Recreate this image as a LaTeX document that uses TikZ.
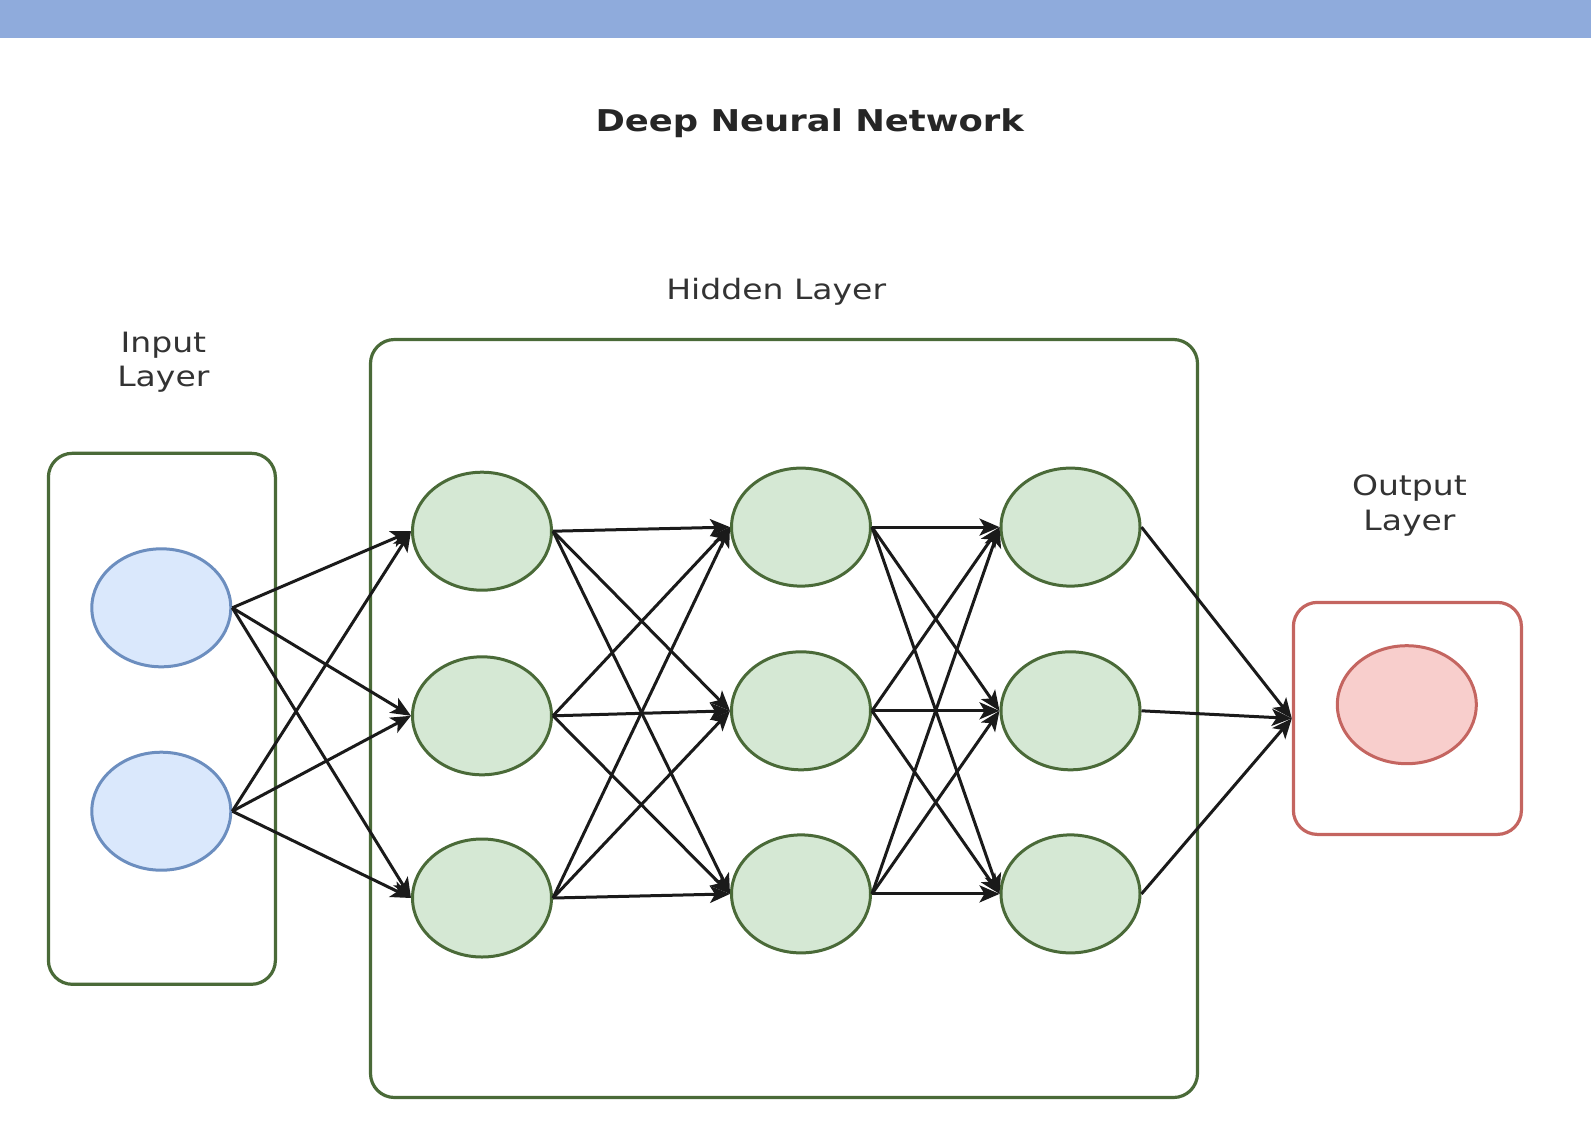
\documentclass[tikz,border=0pt]{standalone}
\usepackage{fontspec}
\setmainfont{DejaVu Sans}
\usetikzlibrary{arrows.meta,shapes.geometric}
\definecolor{barblue}{HTML}{8FABDC}
\definecolor{inputfill}{HTML}{DAE8FC}
\definecolor{inputdraw}{HTML}{6C8EBF}
\definecolor{hiddenfill}{HTML}{D5E8D4}
\definecolor{hiddendraw}{HTML}{4A6A38}
\definecolor{outputfill}{HTML}{F8CECC}
\definecolor{outputdraw}{HTML}{C46560}
\definecolor{labelgray}{HTML}{333333}
\definecolor{arrowblack}{HTML}{1A1A1A}

\begin{document}
\begin{tikzpicture}[
  x=0.5pt, y=-0.5pt,
  lbl/.style={font=\fontsize{14}{17.3}\selectfont, text=labelgray,
              align=center, xscale=1.18, inner sep=0pt},
  layerbox/.style={draw, rounded corners=12pt, line width=1.6pt, inner sep=0pt},
  neuron/.style={ellipse, draw, line width=1.5pt, inner sep=0pt,
                 minimum width=69.5pt, minimum height=59pt},
  arrow/.style={-{Stealth[length=10pt, width=8.5pt, inset=2.5pt]},
                line width=1.5pt, draw=arrowblack}
]
\useasboundingbox (0,0) rectangle (1591,1136);
\fill[barblue] (0,0) rectangle (1591,38);

% title and layer captions
\node[lbl, font=\fontsize{15}{18}\selectfont\bfseries, text=black!85] (title)
  at (809.7,123.5) {Deep Neural Network};
\node[lbl] (hiddenlbl) at (776.2,292) {Hidden Layer};
\node[lbl] (inputlbl) at (163.4,362) {Input\\Layer};
\node[lbl] (outputlbl) at (1409.4,505.5) {Output\\Layer};

% layer frames
\node[layerbox, draw=hiddendraw, minimum width=113.5pt, minimum height=265.5pt]
  (inputbox) at (161.9,718.8) {};
\node[layerbox, draw=hiddendraw, minimum width=413.5pt, minimum height=379pt]
  (hiddenbox) at (784,718.5) {};
\node[layerbox, draw=outputdraw, minimum width=114pt, minimum height=116pt]
  (outputbox) at (1407.4,718.4) {};

% neurons
\node[neuron, fill=inputfill, draw=inputdraw] (x1) at (161.3,607.8) {};
\node[neuron, fill=inputfill, draw=inputdraw] (x2) at (161.3,811.2) {};
\node[neuron, fill=hiddenfill, draw=hiddendraw] (h11) at (482,531.2) {};
\node[neuron, fill=hiddenfill, draw=hiddendraw] (h12) at (482,715.8) {};
\node[neuron, fill=hiddenfill, draw=hiddendraw] (h13) at (482,898) {};
\node[neuron, fill=hiddenfill, draw=hiddendraw] (h21) at (801,527.1) {};
\node[neuron, fill=hiddenfill, draw=hiddendraw] (h22) at (801,710.8) {};
\node[neuron, fill=hiddenfill, draw=hiddendraw] (h23) at (801,893.9) {};
\node[neuron, fill=hiddenfill, draw=hiddendraw] (h31) at (1070.5,527.1) {};
\node[neuron, fill=hiddenfill, draw=hiddendraw] (h32) at (1070.5,710.8) {};
\node[neuron, fill=hiddenfill, draw=hiddendraw] (h33) at (1070.5,893.9) {};
\node[neuron, fill=outputfill, draw=outputdraw] (y) at (1406.8,704.7) {};

% input -> first hidden column
\draw[arrow] (x1.east) -- (h11.west);
\draw[arrow] (x1.east) -- (h12.west);
\draw[arrow] (x1.east) -- (h13.west);
\draw[arrow] (x2.east) -- (h11.west);
\draw[arrow] (x2.east) -- (h12.west);
\draw[arrow] (x2.east) -- (h13.west);
% first -> second hidden column
\draw[arrow] (h11.east) -- (h21.west);
\draw[arrow] (h11.east) -- (h22.west);
\draw[arrow] (h11.east) -- (h23.west);
\draw[arrow] (h12.east) -- (h21.west);
\draw[arrow] (h12.east) -- (h22.west);
\draw[arrow] (h12.east) -- (h23.west);
\draw[arrow] (h13.east) -- (h21.west);
\draw[arrow] (h13.east) -- (h22.west);
\draw[arrow] (h13.east) -- (h23.west);
% second -> third hidden column
\draw[arrow] (h21.east) -- (h31.west);
\draw[arrow] (h21.east) -- (h32.west);
\draw[arrow] (h21.east) -- (h33.west);
\draw[arrow] (h22.east) -- (h31.west);
\draw[arrow] (h22.east) -- (h32.west);
\draw[arrow] (h22.east) -- (h33.west);
\draw[arrow] (h23.east) -- (h31.west);
\draw[arrow] (h23.east) -- (h32.west);
\draw[arrow] (h23.east) -- (h33.west);
% third hidden column -> output layer
\draw[arrow] (h31.east) -- (outputbox.west);
\draw[arrow] (h32.east) -- (outputbox.west);
\draw[arrow] (h33.east) -- (outputbox.west);
\end{tikzpicture}
\end{document}
